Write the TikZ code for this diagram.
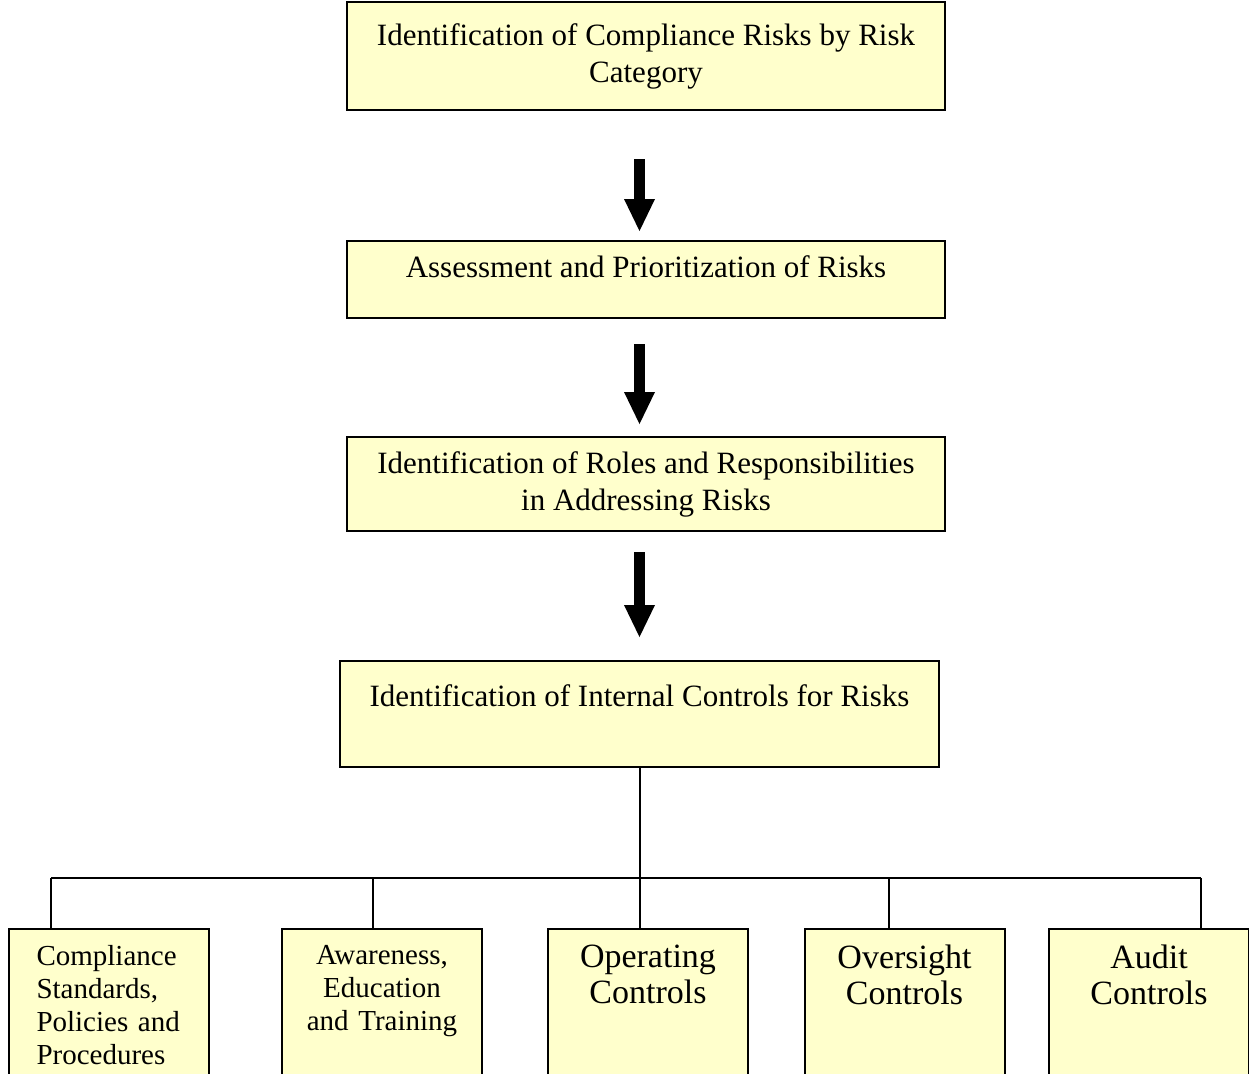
\documentclass[tikz,border=0pt]{standalone}
\usepackage{fontspec}
\setmainfont{Liberation Serif}
\usetikzlibrary{arrows.meta,positioning}
\definecolor{boxfill}{RGB}{255,255,204}
\begin{document}
\begin{tikzpicture}[x=0.5pt,y=-0.5pt,
    stepbox/.style={draw=black,fill=boxfill,line width=1pt,minimum width=299pt,
      align=center,font=\fontsize{15.5}{18.5}\selectfont},
    leafbox/.style={draw=black,fill=boxfill,line width=1pt,anchor=north,
      minimum width=100pt,text width=72pt,inner xsep=14pt,text depth=150pt,inner ysep=8pt},
    fatarrow/.style={line width=5.5pt,
      -{Triangle[width=15.5pt,length=16pt,line width=0pt]}},
    tree/.style={line width=1pt}]
  \useasboundingbox (0,0) rectangle (1249,1073);
  \clip (0,0) rectangle (1249,1073);
  % main steps
  \node[stepbox,minimum height=54pt] (riskcat) at (646,56)
    {Identification of Compliance Risks by Risk\\Category};
  \node[stepbox,minimum height=38.5pt] (assess) at (646,279.5)
    {Assessment and Prioritization of Risks\\[-6pt]\mbox{}};
  \node[stepbox,minimum height=47pt] (roles) at (646,484)
    {Identification of Roles and Responsibilities\\in Addressing Risks};
  \node[stepbox,minimum height=53pt,minimum width=299.5pt] (ctrl) at (639.5,714)
    {Identification of Internal Controls for Risks\\\mbox{}};
  % arrows between the steps
  \draw[fatarrow,shorten <=24pt,shorten >=4.5pt] (riskcat.south -| ctrl.south) -- (assess.north -| ctrl.south);
  \draw[fatarrow,shorten <=12.5pt,shorten >=6pt] (assess.south -| ctrl.south) -- (roles.north -| ctrl.south);
  \draw[fatarrow,shorten <=10pt,shorten >=11.5pt] (roles.south -| ctrl.south) -- (ctrl.north);
  % controls
  \node[leafbox,align=left,font=\fontsize{14.5}{16.5}\selectfont] (standards) at (108.5,928)
    {Compliance\\Standards,\\Policies and\\Procedures};
  \node[leafbox,align=center,text width=86pt,inner xsep=7pt,
        font=\fontsize{14.5}{16.5}\selectfont] (training) at (382,928)
    {Awareness,\\Education\\and Training};
  \node[leafbox,align=center,font=\fontsize{17}{18}\selectfont] (operating) at (648,928)
    {Operating\\Controls};
  \node[leafbox,align=center,font=\fontsize{17}{18}\selectfont] (oversight) at (904.5,928)
    {Oversight\\Controls};
  \node[leafbox,align=center,font=\fontsize{17}{18}\selectfont] (audit) at (1149,928)
    {Audit\\Controls};
  % tree lines
  \coordinate (d1) at (51,878);
  \coordinate (d2) at (373,878);
  \coordinate (d4) at (889,878);
  \coordinate (d5) at (1201,878);
  \coordinate (bus) at (ctrl.south |- d1);
  \draw[tree] (ctrl.south) -- (bus);
  \draw[tree] (d1) -- (d5);
  \draw[tree] (d1) -- (d1 |- standards.north);
  \draw[tree] (d2) -- (d2 |- training.north);
  \draw[tree] (bus) -- (bus |- operating.north);
  \draw[tree] (d4) -- (d4 |- oversight.north);
  \draw[tree] (d5) -- (d5 |- audit.north);
\end{tikzpicture}
\end{document}
